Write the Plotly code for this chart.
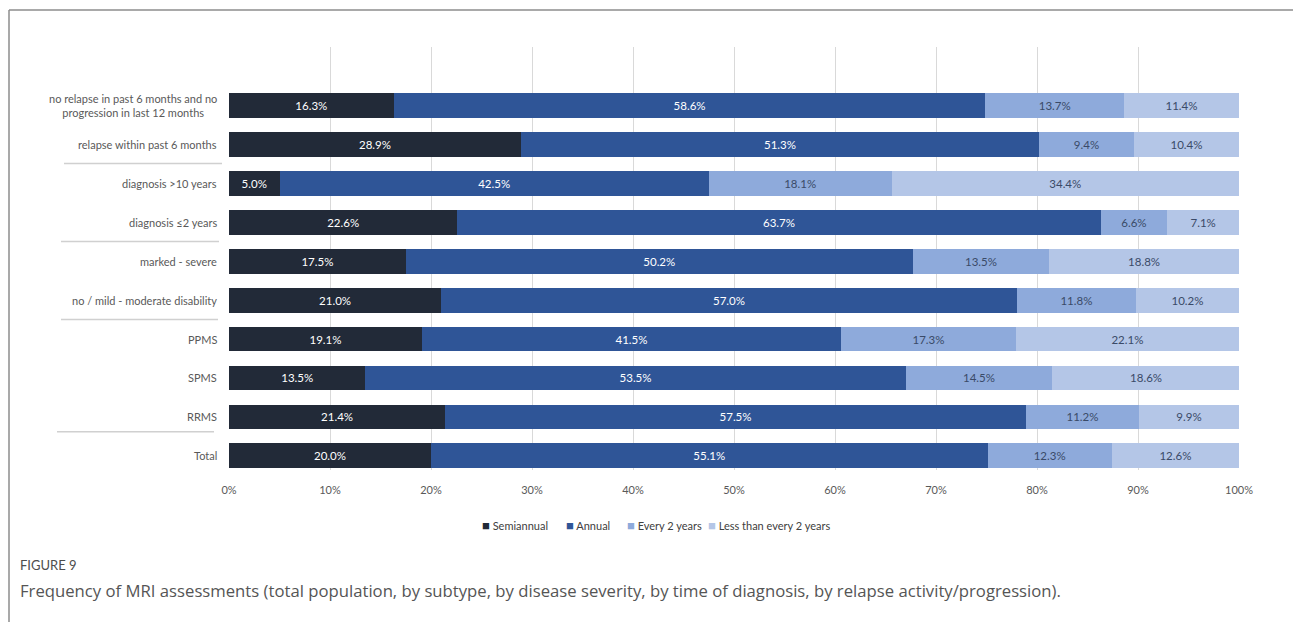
import plotly.graph_objects as go

# Rows listed top to bottom as displayed
groups = [
    "no relapse in past 6 months and no<br>progression in last 12 months",
    "relapse within past 6 months",
    "diagnosis >10 years",
    "diagnosis ≤2 years",
    "marked - severe",
    "no / mild - moderate disability",
    "PPMS",
    "SPMS",
    "RRMS",
    "Total",
]

semiannual = [16.3, 28.9, 5.0, 22.6, 17.5, 21.0, 19.1, 13.5, 21.4, 20.0]
annual = [58.6, 51.3, 42.5, 63.7, 50.2, 57.0, 41.5, 53.5, 57.5, 55.1]
every_2_years = [13.7, 9.4, 18.1, 6.6, 13.5, 11.8, 17.3, 14.5, 11.2, 12.3]
less_than_2_years = [11.4, 10.4, 34.4, 7.1, 18.8, 10.2, 22.1, 18.6, 9.9, 12.6]

series_names = ["Semiannual", "Annual", "Every 2 years", "Less than every 2 years"]
series_values = [semiannual, annual, every_2_years, less_than_2_years]
series_colors = ["#222a38", "#2f5597", "#8eaadb", "#b4c6e7"]
label_colors = ["#ffffff", "#ffffff", "#3a4a68", "#3a4a68"]

x_ticks = list(range(0, 101, 10))

W, H = 1293, 622
L, R, T, B = 229, 1239, 47, 470  # plot area in pixels


def px_x(px):
    return (px - L) / (R - L)


def px_y(py):
    return (B - py) / (B - T)


FONT = "Lato, 'Open Sans', sans-serif"

fig = go.Figure()
for name, vals, col, tcol in zip(series_names, series_values, series_colors, label_colors):
    fig.add_trace(go.Bar(
        name=name,
        y=groups,
        x=vals,
        orientation="h",
        marker=dict(color=col, line=dict(width=0)),
        text=[f"{v:.1f}%" for v in vals],
        textposition="inside",
        insidetextanchor="middle",
        textfont=dict(color=tcol, size=11.5, family=FONT),
        showlegend=False,
        hoverinfo="x+name",
    ))

fig.update_layout(
    barmode="stack",
    bargap=0.36,
    width=W,
    height=H,
    margin=dict(l=L, r=W - R, t=T, b=H - B),
    paper_bgcolor="white",
    plot_bgcolor="white",
    font=dict(family=FONT, color="#595959", size=11),
    uniformtext=dict(minsize=11.5, mode="show"),
    xaxis=dict(
        range=[0, 100],
        tickvals=x_ticks,
        ticktext=[f"{t}%" for t in x_ticks],
        showgrid=True,
        gridcolor="#d9d9d9",
        gridwidth=1,
        zeroline=False,
        showline=False,
        ticks="",
        tickfont=dict(size=11, color="#595959"),
        ticklabelstandoff=12,
    ),
    yaxis=dict(
        type="category",
        categoryorder="array",
        categoryarray=groups[::-1],
        range=[-0.36, 10.49],
        showticklabels=False,
        showgrid=False,
        zeroline=False,
        ticks="",
    ),
)

# Category labels, right aligned beside the bars
for g in groups:
    fig.add_annotation(
        x=px_x(219), xref="paper", y=g, yref="y",
        text=g, showarrow=False, xanchor="right", align="center",
        font=dict(size=11, color="#595959", family=FONT),
    )

# Separator lines between the category groups
separators = [(7.5, 64, 222), (5.5, 61, 219), (3.5, 61, 218), (0.62, 57, 214)]
for yv, x0, x1 in separators:
    fig.add_shape(type="line", xref="paper", yref="y",
                  x0=px_x(x0), x1=px_x(x1), y0=yv, y1=yv,
                  line=dict(color="#d0d0d0", width=1.5))

# Legend row
legend_x = [480, 564, 625, 706]
for name, col, lx in zip(series_names, series_colors, legend_x):
    fig.add_annotation(
        x=px_x(lx), xref="paper", y=px_y(525), yref="paper",
        text=f'<span style="color:{col};font-size:13px">■</span> {name}',
        showarrow=False, xanchor="left", yanchor="middle",
        font=dict(size=11, color="#404040", family=FONT),
    )

# Figure frame (top and left rules)
fig.add_shape(type="line", xref="paper", yref="paper",
              x0=px_x(9), x1=px_x(1293), y0=px_y(10), y1=px_y(10),
              line=dict(color="#8c8c8c", width=1.5))
fig.add_shape(type="line", xref="paper", yref="paper",
              x0=px_x(9), x1=px_x(9), y0=px_y(10), y1=px_y(622),
              line=dict(color="#8c8c8c", width=1.5))

# Caption
fig.add_annotation(
    x=px_x(18), xref="paper", y=px_y(565), yref="paper",
    text="FIGURE 9", showarrow=False, xanchor="left", yanchor="middle",
    font=dict(size=13, color="#4d4d4d", family=FONT),
)
fig.add_annotation(
    x=px_x(18), xref="paper", y=px_y(590), yref="paper",
    text="Frequency of MRI assessments (total population, by subtype, by disease severity, "
         "by time of diagnosis, by relapse activity/progression).",
    showarrow=False, xanchor="left", yanchor="middle",
    font=dict(size=16.7, color="#555555", family="'Open Sans', sans-serif"),
)

fig.write_html("out.html")
